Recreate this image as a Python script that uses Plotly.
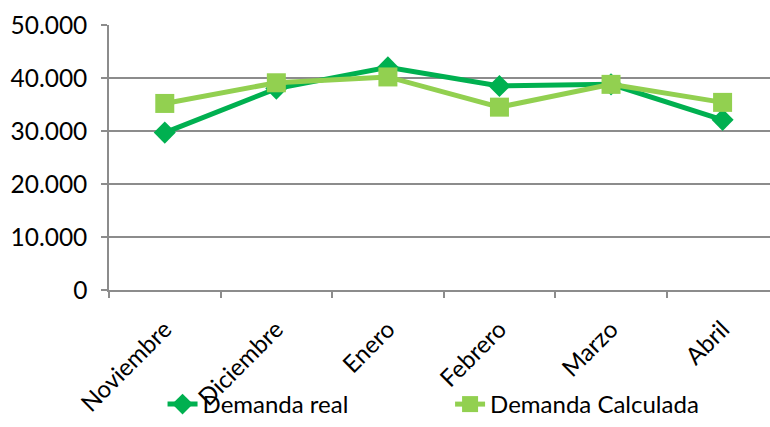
import plotly.graph_objects as go

months = ["Noviembre", "Diciembre", "Enero", "Febrero", "Marzo", "Abril"]
demanda_real = [29700, 38000, 42000, 38500, 38800, 32100]
demanda_calculada = [35200, 39100, 40200, 34500, 38800, 35400]
y_ticks = [0, 10000, 20000, 30000, 40000, 50000]

FONT = "Lato"
GRID = "#8c8c8c"
FS = 24

fig = go.Figure()
fig.add_trace(go.Scatter(
    x=months, y=demanda_real, name="Demanda real", mode="lines+markers",
    line=dict(color="#00B050", width=5),
    marker=dict(symbol="diamond", size=17, color="#00B050"),
    legend="legend",
))
fig.add_trace(go.Scatter(
    x=months, y=demanda_calculada, name="Demanda Calculada", mode="lines+markers",
    line=dict(color="#92D050", width=5),
    marker=dict(symbol="square", size=19, color="#92D050"),
    legend="legend2",
))

LEG_Y = -0.016
fig.update_layout(
    width=770, height=427,
    margin=dict(l=109, r=0, t=25, b=137, autoexpand=False),
    paper_bgcolor="white", plot_bgcolor="white",
    separators=",.",
    font=dict(family=FONT, size=FS, color="#000000"),
    showlegend=True,
    legend=dict(orientation="h", x=0.081, xanchor="left", y=LEG_Y, yanchor="bottom",
                yref="container", font=dict(size=FS), bgcolor="rgba(0,0,0,0)"),
    legend2=dict(orientation="h", x=0.516, xanchor="left", y=LEG_Y, yanchor="bottom",
                 yref="container", font=dict(size=FS), bgcolor="rgba(0,0,0,0)"),
    xaxis=dict(
        type="category", range=[-0.5, 5.425], tickangle=-45, automargin=False,
        showline=True, linecolor=GRID, linewidth=1.5,
        ticks="outside", tickson="boundaries", ticklen=6, tickcolor=GRID, tickwidth=1.5,
        showgrid=False, tickfont=dict(size=FS), ticklabelstandoff=14,
    ),
    yaxis=dict(
        range=[0, 50000], tickvals=y_ticks, tickformat=",d", automargin=False,
        showline=True, linecolor=GRID, linewidth=1.5,
        ticks="outside", ticklen=6, tickcolor=GRID, tickwidth=1.5,
        showgrid=True, gridcolor=GRID, gridwidth=1.5, zeroline=False,
        tickfont=dict(size=FS + 0.5), ticklabelstandoff=9,
    ),
)

fig.write_html("out.html")
